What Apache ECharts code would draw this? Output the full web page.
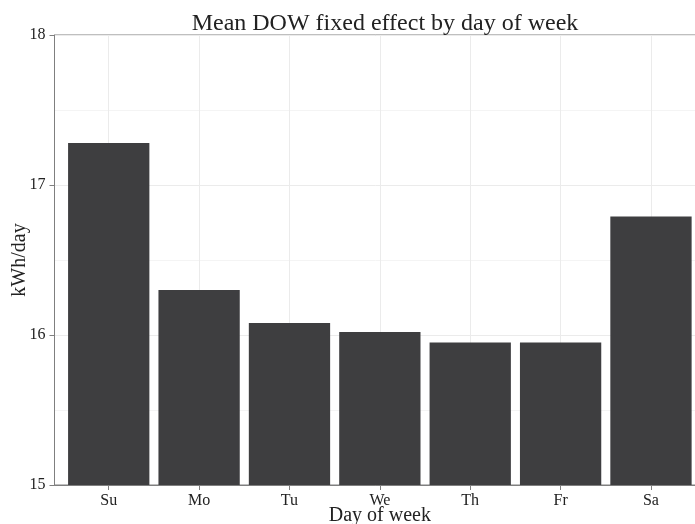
<!DOCTYPE html>
<html>
<head>
<meta charset="utf-8">
<script src="https://cdn.jsdelivr.net/npm/echarts@6/dist/echarts.min.js"></script>
<style>
  html, body { margin: 0; padding: 0; background: #fff; }
  #chart { width: 695px; height: 524px; }
</style>
</head>
<body>
<div id="chart"></div>
<script>
// Day-of-week categories and mean fixed effect (kWh/day)
const days = ['Su', 'Mo', 'Tu', 'We', 'Th', 'Fr', 'Sa'];
const meanEffect = [17.28, 16.30, 16.08, 16.02, 15.95, 15.95, 16.79];
const yTicks = [15, 16, 17, 18];

// Category positions 1..7 on a continuous axis padded by 0.6 on each side
const positions = days.map((d, i) => i + 1);
const barData = positions.map((p, i) => [p, meanEffect[i]]);

const serif = '"Liberation Serif", "DejaVu Serif", serif';
const axisGrey = '#7f7f7f';
const textColor = '#222222';

const chart = echarts.init(document.getElementById('chart'), null, { renderer: 'canvas' });

chart.setOption({
  animation: false,
  backgroundColor: '#ffffff',
  title: {
    text: 'Mean DOW fixed effect by day of week',
    left: 380,
    textAlign: 'center',
    top: 7,
    textStyle: { fontFamily: serif, fontSize: 24, fontWeight: 'normal', color: textColor }
  },
  grid: {
    left: 54.5,
    top: 35,
    bottom: 39,
    right: -10.2,
    containLabel: false,
    outerBoundsMode: 'none',
    show: true,
    borderColor: axisGrey,
    borderWidth: 1,
    backgroundColor: 'transparent'
  },
  xAxis: {
    type: 'value',
    min: 0.4,
    max: 7.6,
    name: 'Day of week',
    nameLocation: 'middle',
    nameGap: 21,
    nameMoveOverlap: false,
    nameTextStyle: { fontFamily: serif, fontSize: 20, color: textColor },
    axisLine: { show: true, lineStyle: { color: axisGrey, width: 1 } },
    axisTick: {
      show: true,
      customValues: positions,
      length: 5,
      lineStyle: { color: axisGrey }
    },
    axisLabel: {
      customValues: positions,
      margin: 8,
      fontFamily: serif,
      fontSize: 16,
      color: textColor,
      formatter: v => days[Math.round(v) - 1] || ''
    },
    splitLine: { show: false }
  },
  yAxis: {
    type: 'value',
    min: yTicks[0],
    max: yTicks[yTicks.length - 1],
    interval: 1,
    name: 'kWh/day',
    nameLocation: 'middle',
    nameGap: 25,
    nameRotate: 90,
    nameMoveOverlap: false,
    nameTextStyle: { fontFamily: serif, fontSize: 20, color: textColor },
    axisLine: { show: true, lineStyle: { color: axisGrey, width: 1 } },
    axisTick: { show: true, length: 5, lineStyle: { color: axisGrey } },
    axisLabel: {
      margin: 9,
      fontFamily: serif,
      fontSize: 16,
      color: textColor
    },
    splitLine: { show: true, lineStyle: { color: '#ebebeb', width: 1 } },
    minorTick: { show: false, splitNumber: 2 },
    minorSplitLine: { show: true, lineStyle: { color: '#f4f4f4', width: 1 } }
  },
  series: [{
    type: 'bar',
    data: barData,
    barWidth: 81.3,
    z: 2,
    itemStyle: { color: '#3e3e40' },
    markLine: {
      silent: true,
      z: 1,
      symbol: 'none',
      label: { show: false },
      lineStyle: { color: '#ebebeb', width: 1, type: 'solid' },
      data: positions.map(p => ({ xAxis: p }))
    }
  }]
});
</script>
</body>
</html>
